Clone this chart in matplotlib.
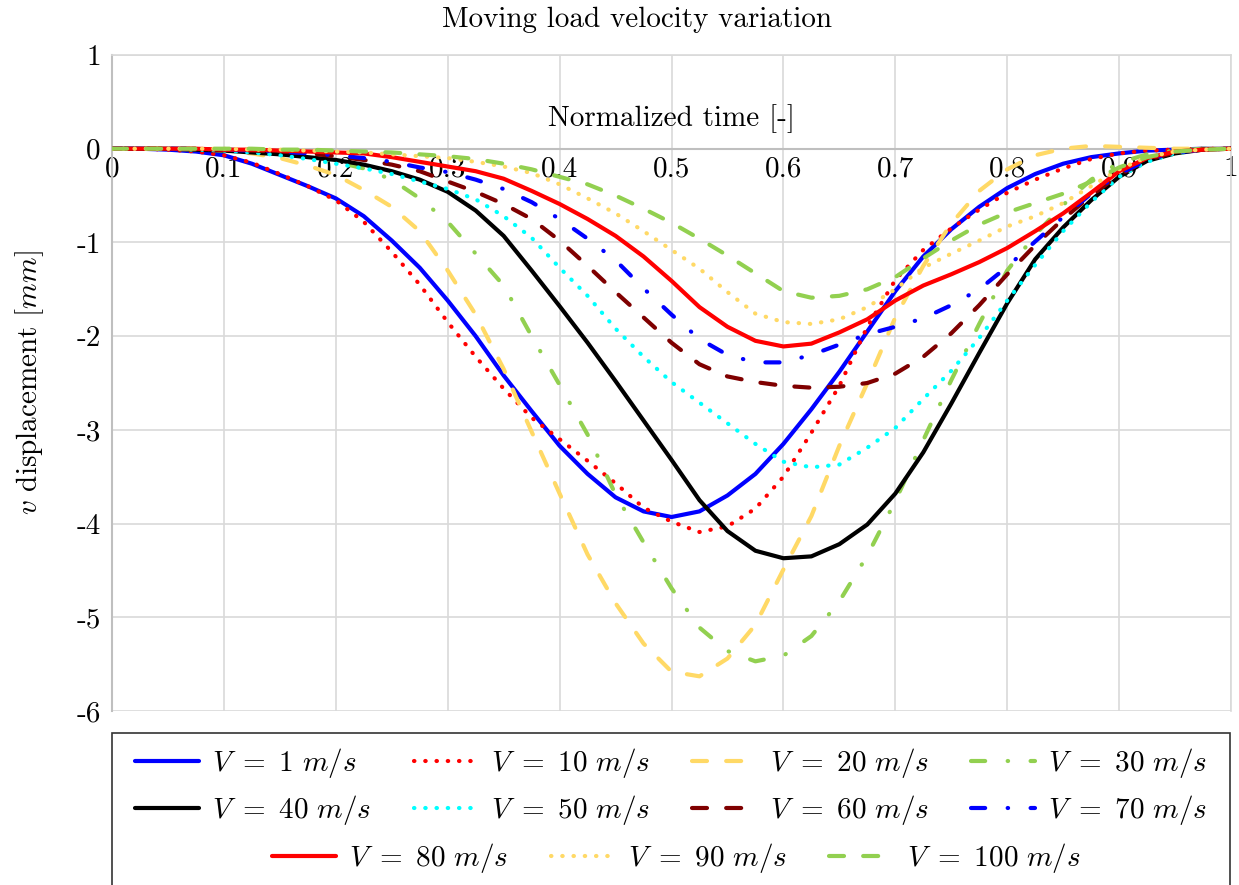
import matplotlib.pyplot as plt
from matplotlib.patches import Rectangle

plt.rcParams['font.family'] = 'serif'
plt.rcParams['font.serif'] = ['cmr10']
plt.rcParams['mathtext.fontset'] = 'cm'
plt.rcParams['axes.unicode_minus'] = False
plt.rcParams['axes.formatter.use_mathtext'] = True

# normalized time samples
t = [0, 0.025, 0.05, 0.075, 0.1, 0.125, 0.15, 0.175, 0.2, 0.225,
     0.25, 0.275, 0.3, 0.325, 0.35, 0.375, 0.4, 0.425, 0.45, 0.475,
     0.5, 0.525, 0.55, 0.575, 0.6, 0.625, 0.65, 0.675, 0.7, 0.725,
     0.75, 0.775, 0.8, 0.825, 0.85, 0.875, 0.9, 0.925, 0.95, 0.975, 1]

# vertical displacement [mm] for each load velocity
v1 = [0, 0, -0.01, -0.03, -0.07, -0.16, -0.28, -0.4, -0.53, -0.72,
      -0.98, -1.27, -1.62, -2.0, -2.42, -2.8, -3.17, -3.47, -3.72, -3.87,
      -3.93, -3.87, -3.7, -3.47, -3.15, -2.78, -2.38, -1.95, -1.52, -1.15,
      -0.86, -0.62, -0.42, -0.27, -0.16, -0.09, -0.05, -0.02, -0.01, 0, 0]
v10 = [0, 0, -0.01, -0.03, -0.07, -0.15, -0.27, -0.4, -0.55, -0.78,
       -1.1, -1.45, -1.85, -2.22, -2.56, -2.87, -3.1, -3.33, -3.57, -3.83,
       -3.98, -4.09, -4.03, -3.84, -3.5, -3.03, -2.53, -1.9, -1.4, -1.08,
       -0.85, -0.65, -0.47, -0.33, -0.21, -0.11, -0.05, -0.02, -0.01, 0, 0]
v20 = [0, 0, 0, -0.01, -0.02, -0.05, -0.1, -0.18, -0.28, -0.44,
       -0.62, -0.88, -1.3, -1.77, -2.35, -3.02, -3.68, -4.33, -4.85, -5.28,
       -5.58, -5.63, -5.44, -5.08, -4.49, -3.92, -3.17, -2.5, -1.8, -1.25,
       -0.8, -0.45, -0.22, -0.07, 0, 0.03, 0.02, 0.01, 0, 0, 0]
v30 = [0, 0, 0, 0, -0.01, -0.02, -0.05, -0.09, -0.14, -0.21,
       -0.33, -0.53, -0.78, -1.12, -1.46, -2.0, -2.52, -3.05, -3.69, -4.2,
       -4.69, -5.11, -5.36, -5.47, -5.41, -5.2, -4.83, -4.34, -3.76, -3.11,
       -2.47, -1.87, -1.3, -0.92, -0.6, -0.33, -0.15, -0.06, -0.02, 0, 0]
v40 = [0, 0, 0, -0.01, -0.02, -0.04, -0.06, -0.09, -0.12, -0.17,
       -0.24, -0.33, -0.46, -0.66, -0.93, -1.3, -1.68, -2.07, -2.48, -2.9,
       -3.32, -3.75, -4.08, -4.29, -4.37, -4.35, -4.22, -4.01, -3.68, -3.24,
       -2.72, -2.18, -1.65, -1.18, -0.84, -0.55, -0.3, -0.13, -0.05, -0.01, 0]
v50 = [0, 0, 0, -0.01, -0.02, -0.04, -0.07, -0.11, -0.16, -0.21,
       -0.27, -0.35, -0.43, -0.54, -0.72, -0.95, -1.27, -1.57, -1.92, -2.22,
       -2.49, -2.71, -2.93, -3.15, -3.34, -3.4, -3.37, -3.19, -2.98, -2.67,
       -2.37, -2.02, -1.62, -1.24, -0.88, -0.57, -0.3, -0.14, -0.05, -0.01, 0]
v60 = [0, 0, 0, 0, -0.01, -0.02, -0.03, -0.05, -0.08, -0.12,
       -0.17, -0.24, -0.35, -0.46, -0.59, -0.75, -0.98, -1.25, -1.53, -1.8,
       -2.07, -2.3, -2.43, -2.49, -2.53, -2.55, -2.54, -2.5, -2.4, -2.22,
       -1.97, -1.67, -1.34, -1.03, -0.75, -0.5, -0.28, -0.12, -0.04, -0.01, 0]
v70 = [0, 0, 0, 0, -0.01, -0.02, -0.03, -0.05, -0.07, -0.1,
       -0.14, -0.2, -0.25, -0.33, -0.43, -0.57, -0.75, -0.96, -1.19, -1.49,
       -1.77, -2.03, -2.2, -2.28, -2.28, -2.2, -2.09, -1.98, -1.9, -1.81,
       -1.67, -1.5, -1.26, -0.99, -0.73, -0.48, -0.27, -0.12, -0.04, -0.01, 0]
v80 = [0, 0, 0, 0, -0.01, -0.01, -0.02, -0.03, -0.04, -0.05,
       -0.09, -0.14, -0.19, -0.24, -0.32, -0.45, -0.59, -0.75, -0.93, -1.15,
       -1.41, -1.69, -1.9, -2.05, -2.11, -2.08, -1.96, -1.82, -1.62, -1.46,
       -1.34, -1.21, -1.06, -0.88, -0.69, -0.47, -0.24, -0.1, -0.03, -0.01, 0]
v90 = [0, 0, 0, 0, 0, -0.01, -0.01, -0.02, -0.03, -0.04,
       -0.06, -0.08, -0.1, -0.14, -0.19, -0.26, -0.38, -0.53, -0.69, -0.88,
       -1.08, -1.28, -1.53, -1.76, -1.85, -1.87, -1.82, -1.69, -1.5, -1.27,
       -1.12, -0.98, -0.83, -0.72, -0.58, -0.4, -0.22, -0.09, -0.03, -0.01, 0]
v100 = [0, 0, 0, 0, 0, 0, -0.01, -0.01, -0.02, -0.03,
        -0.04, -0.06, -0.08, -0.11, -0.16, -0.22, -0.3, -0.38, -0.5, -0.64,
        -0.79, -0.96, -1.14, -1.33, -1.52, -1.59, -1.57, -1.5, -1.37, -1.17,
        -0.98, -0.81, -0.68, -0.58, -0.48, -0.35, -0.2, -0.09, -0.03, -0.01, 0]

speeds = [1, 10, 20, 30, 40, 50, 60, 70, 80, 90, 100]
series = [v1, v10, v20, v30, v40, v50, v60, v70, v80, v90, v100]

dotted = (0, (0.1, 2.6))
dashed = (0, (3.6, 4.6))
dashdot = (0, (3.4, 5.4, 0.1, 5.4))
colors = ['#0000ff', '#ff0000', '#ffd966', '#92d050', '#000000', '#00ffff',
          '#7f0000', '#0000ff', '#ff0000', '#ffd966', '#92d050']
styles = ['-', dotted, dashed, dashdot, '-', dotted,
          dashed, dashdot, '-', dotted, dashed]

xticks = [0, 0.1, 0.2, 0.3, 0.4, 0.5, 0.6, 0.7, 0.8, 0.9, 1]
xticklabels = ['0', '0.1', '0.2', '0.3', '0.4', '0.5', '0.6', '0.7', '0.8', '0.9', '1']
yticks = [1, 0, -1, -2, -3, -4, -5, -6]
yticklabels = ['1', '0', '-1', '-2', '-3', '-4', '-5', '-6']

FS = 21
W, H = 1239, 885
fig = plt.figure(figsize=(W / 100, H / 100), dpi=100)
ax = fig.add_axes([112 / W, 1 - 711 / H, (1231 - 112) / W, (711 - 55) / H])

lines = []
for v, y, c, ls in zip(speeds, series, colors, styles):
    ln, = ax.plot(t, y, color=c, ls=ls, lw=3.0, dash_capstyle='round',
                  solid_capstyle='round', dash_joinstyle='round',
                  solid_joinstyle='round', zorder=3,
                  label=r'$V\ =\ %d\ m/s$' % v)
    lines.append(ln)

ax.set_xlim(0, 1)
ax.set_ylim(-6, 1)
ax.set_xticks(xticks)
ax.set_xticklabels(xticklabels)
ax.set_yticks(yticks)
ax.set_yticklabels(yticklabels)
ax.tick_params(axis='both', length=0, labelsize=FS)
ax.tick_params(axis='x', pad=5)
ax.tick_params(axis='y', pad=8)
ax.grid(color='#d9d9d9', lw=1.2)
ax.set_axisbelow(True)

ax.spines['bottom'].set_position(('data', 0))
ax.spines['bottom'].set_color('#bfbfbf')
ax.spines['bottom'].set_linewidth(1.5)
ax.spines['left'].set_color('#bfbfbf')
ax.spines['left'].set_linewidth(1.5)
for s in ['top', 'right']:
    ax.spines[s].set_color('#d9d9d9')
    ax.spines[s].set_linewidth(1.2)

ax.text(0.5, 0.32, 'Normalized time [-]', ha='center', va='center', fontsize=FS)
fig.text(30 / W, 1 - 383 / H, r'$v$ displacement $[mm]$', rotation=90,
         ha='center', va='center', fontsize=FS)
fig.text(637 / W, 1 - 20 / H, 'Moving load velocity variation',
         ha='center', va='center', fontsize=FS)

# legend: two rows of four, then a centred row of three
first = [lines[i] for i in [0, 4, 1, 5, 2, 6, 3, 7]]
legkw = dict(frameon=False, fontsize=FS, handlelength=2.2, handletextpad=0.45,
             columnspacing=1.45, borderpad=0, borderaxespad=0, labelspacing=0.45,
             loc='upper left')
fig.legend(handles=first, ncol=4, bbox_to_anchor=(135 / W, 1 - 746 / H), **legkw)
fig.legend(handles=lines[8:], ncol=3, bbox_to_anchor=(272 / W, 1 - 841 / H), **legkw)
fig.add_artist(Rectangle((112 / W, -0.05), (1230 - 112) / W, 0.05 + 1 - 733 / H,
                         transform=fig.transFigure, fill=False,
                         ec='#333333', lw=1.2))

fig.savefig('out.png', dpi=100)
